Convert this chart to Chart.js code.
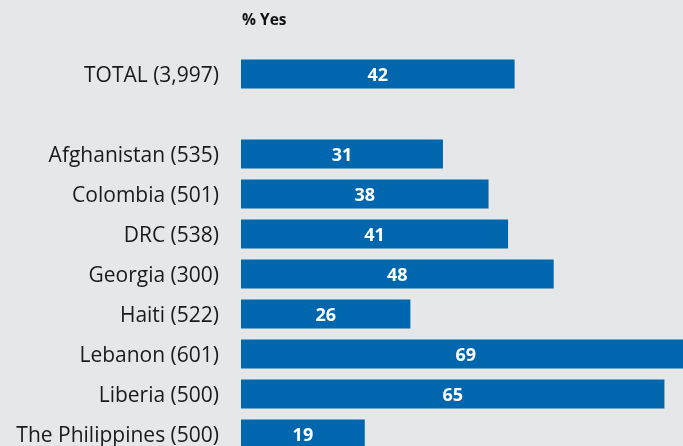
<!DOCTYPE html>
<html>
<head>
<meta charset="utf-8">
<script src="https://cdn.jsdelivr.net/npm/chart.js@4"></script>
<style>
  html, body { margin: 0; padding: 0; background: #e6e7e9; overflow: hidden; }
  canvas { display: block; }
</style>
</head>
<body>
<canvas id="chart" width="700" height="460"></canvas>
<script>
const categories = ["TOTAL (3,997)", "", "Afghanistan (535)", "Colombia (501)", "DRC (538)",
  "Georgia (300)", "Haiti (522)", "Lebanon (601)", "Liberia (500)", "The Philippines (500)"];
const yesValues = [42, null, 31, 38, 41, 48, 26, 69, 65, 19];
const headerLabel = "% Yes";

// header above the bars + white value labels in the middle of each bar
const barText = {
  id: "barText",
  afterDatasetsDraw(chart) {
    const ctx = chart.ctx;
    ctx.save();
    ctx.fillStyle = "#111";
    ctx.font = "bold 15.5px 'Open Sans', sans-serif";
    ctx.textAlign = "left";
    ctx.textBaseline = "middle";
    ctx.fillText(headerLabel, chart.chartArea.left + 1, 21);

    ctx.fillStyle = "#ffffff";
    ctx.font = "bold 18px 'Open Sans', sans-serif";
    ctx.textAlign = "center";
    chart.getDatasetMeta(0).data.forEach((bar, i) => {
      if (yesValues[i] == null) return;
      ctx.fillText(yesValues[i], (bar.base + bar.x) / 2, bar.y + 1.5);
    });
    ctx.restore();
  }
};

new Chart(document.getElementById("chart"), {
  type: "bar",
  data: {
    labels: categories,
    datasets: [{
      data: yesValues,
      backgroundColor: "#0066ae",
      barPercentage: 0.725,
      categoryPercentage: 1
    }]
  },
  options: {
    indexAxis: "y",
    responsive: false,
    animation: false,
    layout: { padding: { top: 54, bottom: 6, right: 3, left: 0 } },
    plugins: { legend: { display: false }, tooltip: { enabled: false } },
    scales: {
      x: { display: false, min: 0, max: 70 },
      y: {
        grid: { display: false, drawTicks: false },
        border: { display: false },
        ticks: {
          color: "#1a1a1a",
          padding: 22,
          labelOffset: 2,
          font: { family: "'Open Sans', sans-serif", size: 21 }
        },
        afterFit(scale) {
          scale.width = 241;
          scale.paddingTop = 0;
          scale.paddingBottom = 0;
        }
      }
    }
  },
  plugins: [barText]
});
</script>
</body>
</html>
